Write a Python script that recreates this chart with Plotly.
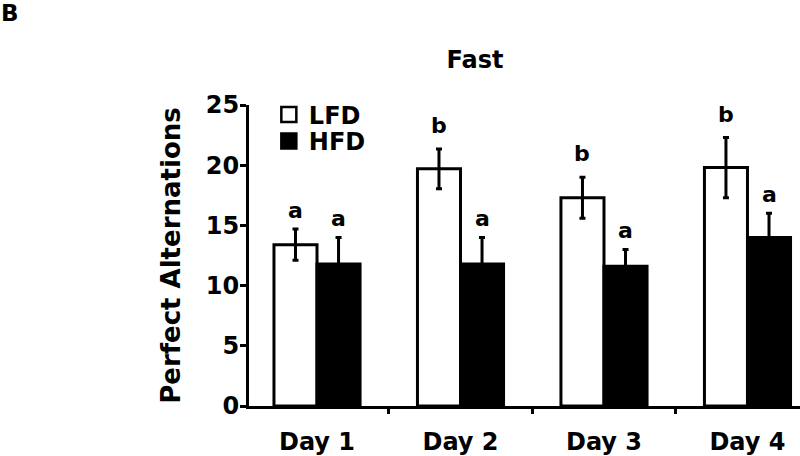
import plotly.graph_objects as go

days = ["Day 1", "Day 2", "Day 3", "Day 4"]
lfd_mean = [13.4, 19.7, 17.3, 19.8]
lfd_err = [1.3, 1.65, 1.7, 2.5]
hfd_mean = [11.8, 11.8, 11.6, 14.0]
hfd_err = [2.2, 2.2, 1.4, 2.0]
lfd_letters = ["a", "b", "b", "b"]
hfd_letters = ["a", "a", "a", "a"]
y_ticks = [0, 5, 10, 15, 20, 25]

FONT = "DejaVu Sans"
bargap = 0.40
xs = list(range(len(days)))

fig = go.Figure()
fig.add_trace(go.Bar(
    x=xs, y=lfd_mean, name="LFD", showlegend=False,
    marker=dict(color="white", line=dict(color="black", width=3)),
    error_y=dict(type="data", array=lfd_err, color="black", thickness=3, width=3),
))
fig.add_trace(go.Bar(
    x=xs, y=hfd_mean, name="HFD", showlegend=False,
    marker=dict(color="black", line=dict(color="black", width=3)),
    error_y=dict(type="data", array=hfd_err, color="black", thickness=3, width=3),
))
# legend entries
fig.add_trace(go.Scatter(
    x=[None], y=[None], mode="markers", name="LFD", legend="legend",
    marker=dict(symbol="square", size=15, color="white", line=dict(color="black", width=2.5)),
))
fig.add_trace(go.Scatter(
    x=[None], y=[None], mode="markers", name="HFD", legend="legend2",
    marker=dict(symbol="square", size=15, color="black", line=dict(color="black", width=2.5)),
))

off = (1 - bargap) / 4
LET = dict(family=FONT, size=22, color="black", weight="bold")
annotations = []
for i in xs:
    annotations.append(dict(x=i - off, y=lfd_mean[i] + lfd_err[i], text=lfd_letters[i],
                            xref="x", yref="y", showarrow=False, yanchor="bottom",
                            yshift=9 if lfd_letters[i] == "b" else 4, font=LET))
    annotations.append(dict(x=i + off, y=hfd_mean[i] + hfd_err[i], text=hfd_letters[i],
                            xref="x", yref="y", showarrow=False, yanchor="bottom",
                            yshift=9 if hfd_letters[i] == "b" else 4, font=LET))
annotations.append(dict(x=0, y=1, xref="paper", yref="paper", xanchor="left", yanchor="top",
                        text="B", showarrow=False, xshift=-250, yshift=107,
                        font=dict(family=FONT, size=23, color="black", weight="bold")))

LEG = dict(family=FONT, size=24, color="black", weight="bold")
fig.update_layout(
    width=800, height=456,
    margin=dict(l=249, r=0, t=105, b=44, pad=0),
    paper_bgcolor="white", plot_bgcolor="white",
    barmode="group", bargap=bargap, bargroupgap=0,
    font=dict(family=FONT, color="black", weight="bold"),
    title=dict(text="Fast", x=475 / 800, xanchor="center", y=1 - 60 / 456, yanchor="middle",
               font=dict(family=FONT, size=24, color="black", weight="bold")),
    annotations=annotations,
    legend=dict(x=0.036, y=0.967, xanchor="left", yanchor="middle", bgcolor="rgba(0,0,0,0)",
                font=LEG, itemsizing="trace"),
    legend2=dict(x=0.036, y=0.879, xanchor="left", yanchor="middle", bgcolor="rgba(0,0,0,0)",
                 font=LEG, itemsizing="trace"),
    xaxis=dict(range=[-0.474, 3.366], tickmode="array", tickvals=xs, ticktext=days,
               ticks="", showline=True, linecolor="black", linewidth=3, showgrid=False,
               zeroline=False, ticklabelstandoff=12,
               tickfont=dict(family=FONT, size=24, color="black", weight="bold"),
               minor=dict(tickmode="array", tickvals=[0.5, 1.5, 2.5], ticks="outside",
                          ticklen=5, tickwidth=3, tickcolor="black", showgrid=False)),
    yaxis=dict(range=[0, 25], tickmode="array", tickvals=y_ticks, ticks="outside",
               ticklen=6, tickwidth=3, tickcolor="black", showline=True, linecolor="black",
               linewidth=3, showgrid=False, zeroline=False, ticklabelstandoff=-4,
               tickfont=dict(family=FONT, size=24, color="black", weight="bold"),
               title=dict(text="Perfect Alternations", standoff=18,
                          font=dict(family=FONT, size=26, color="black", weight="bold"))),
)

fig.write_html("out.html", config={"displayModeBar": False},
               post_script="document.body.style.margin='0';")
